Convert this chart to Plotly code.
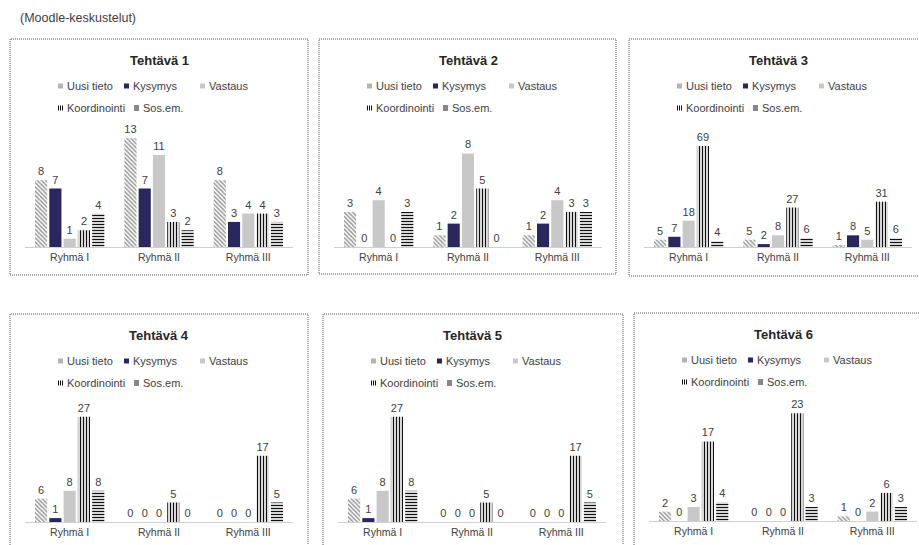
import plotly.graph_objects as go

# ---- data -------------------------------------------------------------
categories = ["Ryhmä I", "Ryhmä II", "Ryhmä III"]
series_names = ["Uusi tieto", "Kysymys", "Vastaus", "Koordinointi", "Sos.em."]
task_titles = ["Tehtävä 1", "Tehtävä 2", "Tehtävä 3",
               "Tehtävä 4", "Tehtävä 5", "Tehtävä 6"]

uusi_tieto = [[8, 13, 8], [3, 1, 1], [5, 5, 1], [6, 0, 0], [6, 0, 0], [2, 0, 1]]
kysymys = [[7, 7, 3], [0, 2, 2], [7, 2, 8], [1, 0, 0], [1, 0, 0], [0, 0, 0]]
vastaus = [[1, 11, 4], [4, 8, 4], [18, 8, 5], [8, 0, 0], [8, 0, 0], [3, 0, 2]]
koordinointi = [[2, 3, 4], [0, 5, 3], [69, 27, 31], [27, 5, 17], [27, 5, 17], [17, 23, 6]]
sos_em = [[4, 2, 3], [3, 0, 3], [4, 6, 6], [8, 0, 5], [8, 0, 5], [4, 3, 3]]

y_axis_max = [14, 10, 80, 30, 30, 25]

# ---- page geometry (pixels) ------------------------------------------
W, H = 919, 545
FONT = "Arial, Liberation Sans, sans-serif"
TEXT = "#404040"

panel_left = [10, 319, 629, 10, 323, 634]
panel_top = [39, 39, 39, 314, 314, 313]
panel_right = [308, 616, 927, 308, 623, 932]
panel_bottom = [275, 274, 276, 560, 560, 560]


def px(x):
    return x / W


def py(y):
    return 1 - y / H


# ---- series styles ----------------------------------------------------
def pattern(shape, fg, size, solidity):
    return dict(shape=shape, fgcolor=fg, bgcolor="#ffffff", size=size,
                solidity=solidity, fillmode="replace")


series_markers = [
    dict(color="#ffffff", pattern=pattern("\\", "#999999", 3, 0.5)),
    dict(color="#29275e"),
    dict(color="#c8c8c8"),
    dict(color="#ffffff", pattern=pattern("|", "#111111", 3, 0.45)),
    dict(color="#ffffff", pattern=pattern("-", "#111111", 3, 0.45)),
]

# legend swatch kind per series: solid fill, vertical or horizontal stripes
legend_swatch = [
    ("solid", "#b4b4b4"),
    ("solid", "#29275e"),
    ("solid", "#c8c8c8"),
    ("vstripes", "#111111"),
    ("hstripes", "#111111"),
]
# legend item offsets (x from panel left, y from panel top)
legend_pos = [(48, 47), (114, 47), (190, 47), (48, 69), (124, 69)]
SW = 5  # swatch size

all_series = [uusi_tieto, kysymys, vastaus, koordinointi, sos_em]


def swatch_shapes(kind, color, x0, yc):
    y0, y1 = yc - SW / 2, yc + SW / 2
    x1 = x0 + SW
    if kind == "solid":
        return [dict(type="rect", xref="paper", yref="paper",
                     x0=px(x0), x1=px(x1), y0=py(y1), y1=py(y0),
                     fillcolor=color, line=dict(width=0))]
    if kind == "vstripes":
        path = "".join(f"M{px(x)},{py(y0)}L{px(x)},{py(y1)}"
                       for x in (x0 + 0.5, x0 + 2.5, x0 + 4.5))
    else:
        path = "".join(f"M{px(x0)},{py(y)}L{px(x1)},{py(y)}"
                       for y in (y0 + 0.5, y0 + 2.5, y0 + 4.5))
    return [dict(type="path", xref="paper", yref="paper", path=path,
                 line=dict(color=color, width=1))]


fig = go.Figure()
layout = dict(
    width=W, height=H,
    margin=dict(l=0, r=0, t=0, b=0),
    paper_bgcolor="#ffffff", plot_bgcolor="rgba(0,0,0,0)",
    barmode="group", bargap=0.2, bargroupgap=0.15,
    showlegend=False,
    font=dict(family=FONT, color=TEXT),
)
annotations = []
shapes = []

for p in range(6):
    L, T = panel_left[p], panel_top[p]
    ax = "" if p == 0 else str(p + 1)
    xref, yref = "x" + ax, "y" + ax

    for s, name in enumerate(series_names):
        vals = all_series[s][p]
        fig.add_trace(go.Bar(
            x=categories, y=vals, name=name,
            xaxis=xref, yaxis=yref,
            marker=dict(**series_markers[s], line=dict(width=0)),
            text=vals, texttemplate="%{text}", textposition="outside",
            textfont=dict(size=11, color=TEXT, family=FONT),
            constraintext="none", cliponaxis=False,
            hoverinfo="skip",
        ))

    layout["xaxis" + ax] = dict(
        domain=[px(L + 15), px(L + 283)], anchor=yref,
        showline=True, linecolor="#d0d0d0", linewidth=1,
        ticks="", showgrid=False, zeroline=False, fixedrange=True,
        tickfont=dict(size=10.5, color=TEXT, family=FONT),
    )
    layout["yaxis" + ax] = dict(
        domain=[py(T + 208), py(T + 91)], anchor=xref,
        range=[0, y_axis_max[p]], visible=False, fixedrange=True,
    )

    # dotted frame around each chart
    shapes.append(dict(
        type="rect", xref="paper", yref="paper",
        x0=px(L), x1=px(panel_right[p]), y0=py(panel_bottom[p]), y1=py(T),
        line=dict(color="#555555", width=1, dash="1px,1px"),
        fillcolor="rgba(0,0,0,0)", layer="below",
    ))

    # chart title
    annotations.append(dict(
        text="<b>" + task_titles[p] + "</b>", xref="paper", yref="paper",
        x=px(L + 149), y=py(T + 21), xanchor="center", yanchor="middle",
        showarrow=False, font=dict(size=13, color="#262626", family=FONT),
    ))

    # legend: swatch + label
    for s, name in enumerate(series_names):
        kind, col = legend_swatch[s]
        dx, dy = legend_pos[s]
        shapes.extend(swatch_shapes(kind, col, L + dx, T + dy))
        annotations.append(dict(
            text=name, xref="paper", yref="paper",
            x=px(L + dx + SW + 2), y=py(T + dy),
            xanchor="left", yanchor="middle", showarrow=False,
            font=dict(size=11, color=TEXT, family=FONT),
        ))

annotations.append(dict(
    text="(Moodle-keskustelut)", xref="paper", yref="paper",
    x=px(18), y=py(18), xanchor="left", yanchor="middle", showarrow=False,
    font=dict(size=12.5, color=TEXT, family=FONT),
))

layout["annotations"] = annotations
layout["shapes"] = shapes
fig.update_layout(**layout)

fig.write_html("out.html", config={"displayModeBar": False})
